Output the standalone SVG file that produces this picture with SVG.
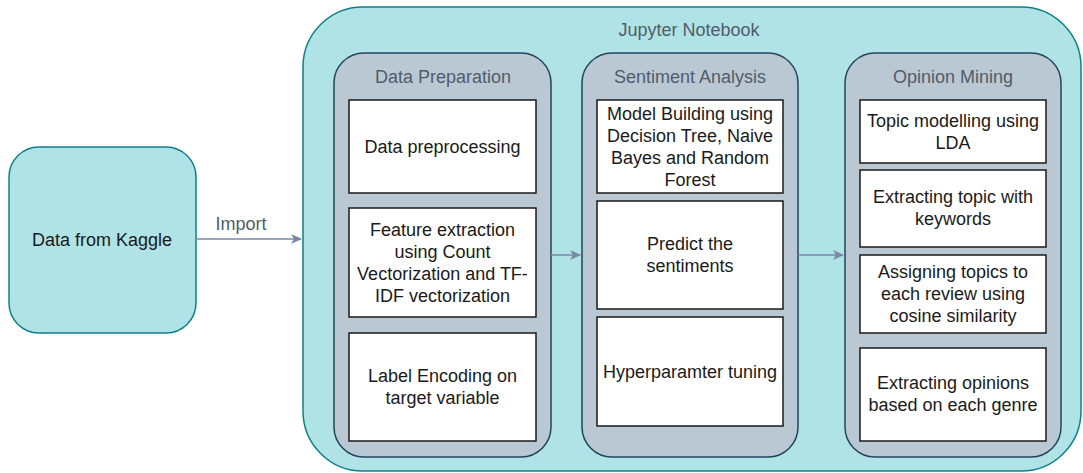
<svg xmlns="http://www.w3.org/2000/svg" width="1083" height="473" viewBox="0 0 1083 473">
<style>
text{font-family:"Liberation Sans",Arial,sans-serif;font-size:18px;text-anchor:middle}
.outer{fill:#b0e3e6;stroke:#0e8088;stroke-width:1.5}
.lane{fill:#bac8d3;stroke:#23445d;stroke-width:1.5}
.box{fill:#ffffff;stroke:#1a1a1a;stroke-width:1.5}
.ttl{fill:#515c6b}
.txt{fill:#1a1a1a}
.conn{stroke:#788aa3;stroke-width:1.5;fill:none;marker-end:url(#arr)}
</style>
<defs>
<marker id="arr" markerWidth="12" markerHeight="10" refX="10" refY="5" orient="auto" markerUnits="userSpaceOnUse">
<path d="M0,0 L11,5 L0,10 L3,5 Z" fill="#788aa3"/>
</marker>
</defs>
<g id="kaggle">
<rect class="outer" x="9" y="147" width="187" height="186" rx="30"/>
<text class="txt" x="102" y="246">Data from Kaggle</text>
</g>
<g id="notebook">
<rect class="outer" x="303" y="7" width="778" height="464" rx="60"/>
<text class="ttl" x="689" y="36">Jupyter Notebook</text>
</g>
<g id="lane-prep">
<rect class="lane" x="334" y="53" width="217" height="404" rx="30"/>
<text class="ttl" x="443" y="83">Data Preparation</text>
</g>
<g id="prep-1">
<rect class="box" x="349" y="100" width="187" height="93"/>
<text class="txt" x="442.5" y="153">Data preprocessing</text>
</g>
<g id="prep-2">
<rect class="box" x="349" y="208" width="187" height="109"/>
<text class="txt" x="442.5" y="236">Feature extraction</text>
<text class="txt" x="442.5" y="258">using Count</text>
<text class="txt" x="442.5" y="280">Vectorization and TF-</text>
<text class="txt" x="442.5" y="302">IDF vectorization</text>
</g>
<g id="prep-3">
<rect class="box" x="349" y="333" width="187" height="108"/>
<text class="txt" x="442.5" y="382">Label Encoding on</text>
<text class="txt" x="442.5" y="404">target variable</text>
</g>
<g id="lane-sent">
<rect class="lane" x="582" y="53" width="216" height="404" rx="30"/>
<text class="ttl" x="690" y="83">Sentiment Analysis</text>
</g>
<g id="sent-1">
<rect class="box" x="597" y="100" width="186" height="93"/>
<text class="txt" x="690" y="120">Model Building using</text>
<text class="txt" x="690" y="142">Decision Tree, Naive</text>
<text class="txt" x="690" y="164">Bayes and Random</text>
<text class="txt" x="690" y="186">Forest</text>
</g>
<g id="sent-2">
<rect class="box" x="597" y="201" width="186" height="108"/>
<text class="txt" x="690" y="250">Predict the</text>
<text class="txt" x="690" y="272">sentiments</text>
</g>
<g id="sent-3">
<rect class="box" x="597" y="317" width="186" height="109"/>
<text class="txt" x="690" y="378">Hyperparamter tuning</text>
</g>
<g id="lane-op">
<rect class="lane" x="845" y="53" width="216" height="404" rx="30"/>
<text class="ttl" x="953" y="83">Opinion Mining</text>
</g>
<g id="op-1">
<rect class="box" x="860" y="100" width="186" height="63"/>
<text class="txt" x="953" y="127">Topic modelling using</text>
<text class="txt" x="953" y="149">LDA</text>
</g>
<g id="op-2">
<rect class="box" x="860" y="170" width="186" height="77"/>
<text class="txt" x="953" y="203">Extracting topic with</text>
<text class="txt" x="953" y="225">keywords</text>
</g>
<g id="op-3">
<rect class="box" x="860" y="255" width="186" height="78"/>
<text class="txt" x="953" y="278">Assigning topics to</text>
<text class="txt" x="953" y="300">each review using</text>
<text class="txt" x="953" y="322">cosine similarity</text>
</g>
<g id="op-4">
<rect class="box" x="860" y="348" width="186" height="93"/>
<text class="txt" x="953" y="389">Extracting opinions</text>
<text class="txt" x="953" y="411">based on each genre</text>
</g>
<g id="connectors">
<line class="conn" x1="196" y1="239" x2="301" y2="239"/>
<text class="ttl" x="241" y="230">Import</text>
<line class="conn" x1="551" y1="255" x2="580" y2="255"/>
<line class="conn" x1="798" y1="255" x2="843" y2="255"/>
</g>
</svg>
